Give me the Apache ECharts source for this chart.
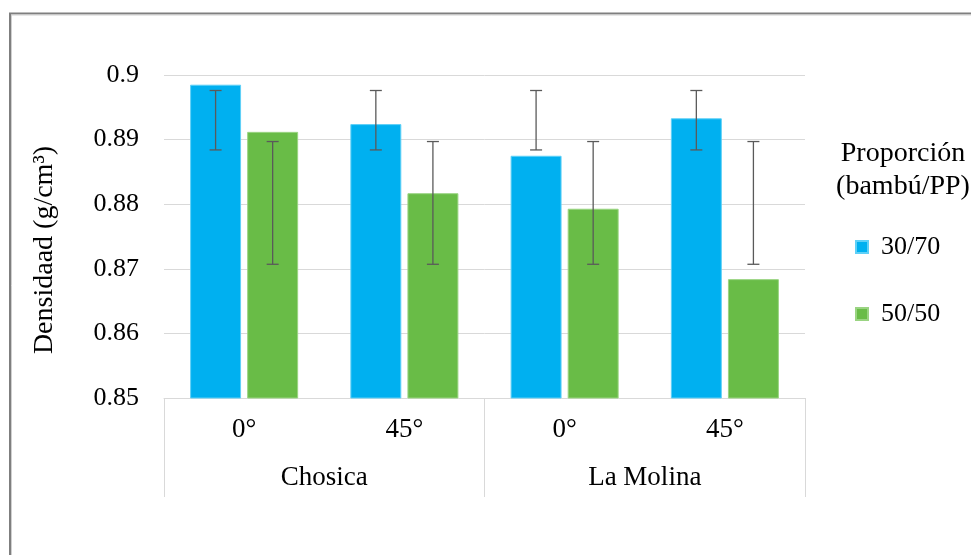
<!DOCTYPE html>
<html>
<head>
<meta charset="utf-8">
<script src="https://cdn.jsdelivr.net/npm/echarts@6/dist/echarts.min.js"></script>
<style>
  html, body { margin: 0; padding: 0; background: #fff; }
  #chart { width: 971px; height: 555px; }
</style>
</head>
<body>
<div id="chart"></div>
<script>
// Density of bamboo/PP composites by origin and fibre angle
const angles = ['0°', '45°', '0°', '45°'];
const origins = ['Chosica', 'La Molina'];
const seriesNames = ['30/70', '50/50'];
const density3070 = [0.8985, 0.8924, 0.8875, 0.8933];
const density5050 = [0.8912, 0.8817, 0.8793, 0.8684];
// error bar limits [low, high] per category
const err3070 = [[0.8884, 0.8976], [0.8884, 0.8976], [0.8884, 0.8976], [0.8884, 0.8976]];
const err5050 = [[0.8707, 0.8897], [0.8707, 0.8897], [0.8707, 0.8897], [0.8707, 0.8897]];
const yTicks = [0.85, 0.86, 0.87, 0.88, 0.89, 0.9];

const FONT = 'Liberation Serif';
const TEXT = '#000000';
const BLUE = '#00B0F0';
const GREEN = '#69BC47';
const BAR_RATIO = 0.318;   // bar width as share of a category band
const GAP_RATIO = 0.12;    // gap between bars as share of bar width

function errorSeries(limits, side) {
  return {
    type: 'custom',
    silent: true,
    z: 5,
    data: limits.map((d, i) => [i, d[0], d[1]]),
    encode: { x: 0, y: [1, 2] },
    renderItem: function (params, api) {
      const band = api.size([1, 0])[0];
      const bw = band * BAR_RATIO;
      const off = side * (bw + bw * GAP_RATIO) / 2;
      const lo = api.coord([api.value(0), api.value(1)]);
      const hi = api.coord([api.value(0), api.value(2)]);
      const x = lo[0] + off;
      const cap = 6;
      const style = { stroke: '#5a5a5a', lineWidth: 1.3, fill: null };
      return {
        type: 'group',
        children: [
          { type: 'line', shape: { x1: x, y1: lo[1], x2: x, y2: hi[1] }, style: style },
          { type: 'line', shape: { x1: x - cap, y1: lo[1], x2: x + cap, y2: lo[1] }, style: style },
          { type: 'line', shape: { x1: x - cap, y1: hi[1], x2: x + cap, y2: hi[1] }, style: style }
        ]
      };
    }
  };
}

const chart = echarts.init(document.getElementById('chart'), null, { renderer: 'canvas' });

chart.setOption({
  backgroundColor: '#ffffff',
  animation: false,
  textStyle: { fontFamily: FONT, color: TEXT },
  title: {
    text: 'Proporción\n(bambú/PP)',
    left: 898,
    top: 132,
    textAlign: 'center',
    textStyle: { fontFamily: FONT, fontSize: 28, fontWeight: 'normal', color: TEXT, lineHeight: 33 }
  },
  legend: {
    orient: 'vertical',
    left: 850,
    top: 229,
    itemWidth: 12,
    itemHeight: 12,
    itemGap: 41,
    icon: 'rect',
    data: seriesNames,
    textStyle: { fontFamily: FONT, fontSize: 26, color: TEXT, padding: [0, 0, 0, 8] }
  },
  grid: { left: 164, right: 166, top: 75, bottom: 157 },
  xAxis: [
    {
      type: 'category',
      data: angles,
      axisLine: { show: true, lineStyle: { color: '#d9d9d9', width: 1 } },
      axisTick: { show: false },
      axisLabel: { fontFamily: FONT, fontSize: 27, color: TEXT, margin: 18 }
    },
    {
      type: 'category',
      data: origins,
      position: 'bottom',
      axisLine: { show: false },
      axisTick: { show: true, length: 99, interval: 0, lineStyle: { color: '#d9d9d9', width: 1 } },
      axisLabel: { fontFamily: FONT, fontSize: 27, color: TEXT, margin: 66 },
      splitLine: { show: false }
    }
  ],
  yAxis: {
    type: 'value',
    min: yTicks[0],
    max: yTicks[yTicks.length - 1],
    interval: 0.01,
    axisLine: { show: false },
    axisTick: { show: false },
    axisLabel: {
      fontFamily: FONT, fontSize: 26, color: TEXT, margin: 25,
      formatter: v => String(parseFloat(v.toFixed(2)))
    },
    splitLine: { show: true, lineStyle: { color: '#d9d9d9', width: 1 } }
  },
  graphic: [
    {
      type: 'polyline',
      silent: true,
      shape: { points: [[10, 560], [10, 13.5], [975, 13.5]] },
      style: { stroke: '#7f7f7f', lineWidth: 2, fill: null }
    },
    {
      type: 'polyline',
      silent: true,
      shape: { points: [[11.5, 560], [11.5, 15], [975, 15]] },
      style: { stroke: '#d0d0d0', lineWidth: 1, fill: null }
    },
    {
      // y-axis title
      type: 'text',
      silent: true,
      x: 45,
      y: 250,
      rotation: Math.PI / 2,
      style: {
        text: 'Densidaad (g/cm³)',
        fontFamily: FONT,
        fontSize: 28,
        fill: TEXT,
        align: 'center',
        verticalAlign: 'middle'
      }
    }
  ],
  series: [
    {
      name: seriesNames[0],
      type: 'bar',
      data: density3070,
      barWidth: (BAR_RATIO * 100) + '%',
      barGap: (GAP_RATIO * 100) + '%',
      itemStyle: { color: BLUE, borderColor: '#5fd0f7', borderWidth: 1 }
    },
    {
      name: seriesNames[1],
      type: 'bar',
      data: density5050,
      barWidth: (BAR_RATIO * 100) + '%',
      barGap: (GAP_RATIO * 100) + '%',
      itemStyle: { color: GREEN, borderColor: '#9ad482', borderWidth: 1 }
    },
    errorSeries(err3070, -1),
    errorSeries(err5050, 1)
  ]
});
</script>
</body>
</html>
